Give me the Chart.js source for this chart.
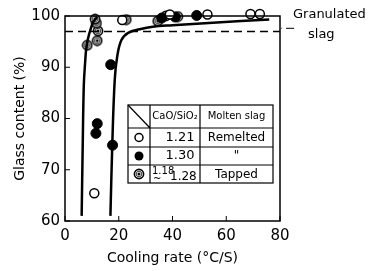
<!DOCTYPE html>
<html>
<head>
<meta charset="utf-8">
<script src="https://cdn.jsdelivr.net/npm/chart.js@4"></script>
<style>
  html, body { margin: 0; padding: 0; background: #fff; }
</style>
</head>
<body>
<canvas id="c" width="372" height="271"></canvas>
<script>
// remelted, CaO/SiO2 = 1.21 (open circles)
const openX = [10.9, 21.3, 39, 53, 69, 72.5];
const openY = [65.4, 99.2, 100.3, 100.3, 100.4, 100.4];

// remelted, CaO/SiO2 = 1.30 (filled)
const filledX = [11.5, 12, 17.7, 17, 36, 41, 49];
const filledY = [77.1, 79, 74.8, 90.5, 99.6, 99.8, 100.1];

// tapped, 1.18 ~ 1.28
const tappedX = [8.3, 12, 12.3, 11.7, 11.2, 22.8, 34.5, 37.5, 42];
const tappedY = [94.3, 95.2, 97.1, 98.6, 99.4, 99.3, 99.0, 100, 99.9];

// hand drawn curves
const leftCurveX = [6.2, 6.6, 7.0, 7.5, 8.0, 9.0, 10.5, 12.0];
const leftCurveY = [61, 75, 86.5, 91, 94, 96.5, 98.8, 99.8];
const rightCurveX = [16.9, 17.6, 18.5, 19.4, 21, 23.5, 27.8, 32.6, 40, 55, 76];
const rightCurveY = [61, 75, 87.5, 92, 95.3, 96.7, 97.4, 97.9, 98.2, 98.7, 99.3];

// granulated slag level
const granX = [0, 80];
const granY = [97, 97];

const xTicks = [0, 20, 40, 60, 80];
const yTicks = [60, 70, 80, 90, 100];

function pts(xs, ys) {
    return xs.map((x, i) => ({ x: x, y: ys[i] }));
}

// circle with a dot in the middle
function tappedMark() {
    const cv = document.createElement('canvas');
    cv.width = 12; cv.height = 12;
    const g = cv.getContext('2d');
    g.fillStyle = '#fff';
    g.strokeStyle = '#000';
    g.lineWidth = 1.6;
    g.beginPath(); g.arc(6, 6, 4.6, 0, Math.PI * 2); g.fill(); g.stroke();
    g.lineWidth = 0.8;
    g.beginPath(); g.arc(6, 6, 2.8, 0, Math.PI * 2); g.stroke();
    g.fillStyle = '#000';
    g.beginPath(); g.arc(6, 6, 1.5, 0, Math.PI * 2); g.fill();
    return cv;
}

const frame = {
    id: 'frame',
    afterDraw(chart) {
        const ctx = chart.ctx;
        const a = chart.chartArea;
        const xs = chart.scales.x, ys = chart.scales.y;
        ctx.save();
        ctx.strokeStyle = '#000';
        ctx.lineWidth = 1.5;
        ctx.strokeRect(a.left, a.top, a.right - a.left, a.bottom - a.top);
        // inward ticks
        ctx.lineWidth = 1;
        ctx.beginPath();
        xTicks.forEach(v => {
            const p = xs.getPixelForValue(v);
            ctx.moveTo(p, a.bottom); ctx.lineTo(p, a.bottom - 5);
        });
        yTicks.forEach(v => {
            const p = ys.getPixelForValue(v);
            ctx.moveTo(a.left, p); ctx.lineTo(a.left + 5, p);
        });
        ctx.stroke();

        // arrow + label for granulated slag
        const gy = ys.getPixelForValue(97.6);
        ctx.beginPath();
        ctx.moveTo(a.right + 1, gy); ctx.lineTo(a.right + 14, gy);
        ctx.stroke();
        ctx.beginPath();
        ctx.moveTo(a.right + 1, gy);
        ctx.lineTo(a.right + 6, gy - 2.5);
        ctx.lineTo(a.right + 6, gy + 2.5);
        ctx.closePath(); ctx.fill();
        ctx.fillStyle = '#000';
        ctx.font = '13px "DejaVu Sans"';
        ctx.textBaseline = 'middle';
        ctx.textAlign = 'left';
        ctx.fillText('Granulated', 293, 15);
        ctx.fillText('slag', 308, 35);

        // legend table
        const L = 128, R = 273, c1 = 150, c2 = 200;
        const rows = [105, 128, 147, 165, 183];
        ctx.lineWidth = 1.2;
        ctx.fillStyle = '#fff';
        ctx.fillRect(L, rows[0], R - L, rows[4] - rows[0]);
        ctx.strokeRect(L, rows[0], R - L, rows[4] - rows[0]);
        ctx.beginPath();
        ctx.moveTo(c1, rows[0]); ctx.lineTo(c1, rows[4]);
        ctx.moveTo(c2, rows[0]); ctx.lineTo(c2, rows[4]);
        for (let i = 1; i < 4; i++) { ctx.moveTo(L, rows[i]); ctx.lineTo(R, rows[i]); }
        ctx.moveTo(L, rows[0]); ctx.lineTo(c1, rows[1]);
        ctx.stroke();

        ctx.fillStyle = '#000';
        ctx.textAlign = 'center';
        ctx.font = '10px "DejaVu Sans"';
        ctx.fillText('CaO/SiO\u2082', (c1 + c2) / 2, (rows[0] + rows[1]) / 2);
        ctx.fillText('Molten slag', (c2 + R) / 2, (rows[0] + rows[1]) / 2);
        ctx.font = '13px "DejaVu Sans"';
        ctx.fillText('1.21', 180, (rows[1] + rows[2]) / 2);
        ctx.fillText('1.30', 180, (rows[2] + rows[3]) / 2);
        ctx.font = '12px "DejaVu Sans"';
        ctx.fillText('Remelted', (c2 + R) / 2, (rows[1] + rows[2]) / 2);
        ctx.fillText('"', (c2 + R) / 2, (rows[2] + rows[3]) / 2);
        ctx.fillText('Tapped', (c2 + R) / 2, (rows[3] + rows[4]) / 2 + 1);
        ctx.font = '10px "DejaVu Sans"';
        ctx.textAlign = 'left';
        ctx.fillText('1.18', 152, rows[3] + 6);
        ctx.fillText('~', 153, rows[3] + 14);
        ctx.font = '12px "DejaVu Sans"';
        ctx.fillText('1.28', 170, rows[3] + 12);

        // legend marks
        const my = i => (rows[i] + rows[i + 1]) / 2;
        const mx = (L + c1) / 2;
        ctx.lineWidth = 1.5;
        ctx.fillStyle = '#fff';
        ctx.beginPath(); ctx.arc(mx, my(1), 4, 0, Math.PI * 2); ctx.fill(); ctx.stroke();
        ctx.fillStyle = '#000';
        ctx.beginPath(); ctx.arc(mx, my(2), 4.5, 0, Math.PI * 2); ctx.fill();
        ctx.drawImage(tappedMark(), mx - 6, my(3) - 6);
        ctx.restore();
    }
};

new Chart(document.getElementById('c'), {
    type: 'scatter',
    data: {
        datasets: [
            {
                data: pts(granX, granY),
                showLine: true,
                borderColor: '#000',
                borderWidth: 1.5,
                borderDash: [8, 5],
                pointRadius: 0
            },
            {
                data: pts(leftCurveX, leftCurveY),
                showLine: true,
                borderColor: '#000',
                borderWidth: 2.5,
                tension: 0.4,
                pointRadius: 0
            },
            {
                data: pts(rightCurveX, rightCurveY),
                showLine: true,
                borderColor: '#000',
                borderWidth: 2.5,
                tension: 0.4,
                pointRadius: 0
            },
            {
                data: pts(openX, openY),
                pointRadius: 4.5,
                pointBackgroundColor: '#fff',
                pointBorderColor: '#000',
                pointBorderWidth: 1.5,
                clip: false
            },
            {
                data: pts(filledX, filledY),
                pointRadius: 5,
                pointBackgroundColor: '#000',
                pointBorderColor: '#000',
                pointBorderWidth: 1,
                clip: false
            },
            {
                data: pts(tappedX, tappedY),
                pointStyle: tappedMark(),
                clip: false
            }
        ]
    },
    options: {
        responsive: false,
        animation: false,
        devicePixelRatio: 1,
        layout: { padding: { top: 16, right: 92, left: 0, bottom: 0 } },
        plugins: {
            legend: { display: false },
            tooltip: { enabled: false }
        },
        scales: {
            x: {
                min: 0, max: 80,
                afterFit: s => { s.height = 50; },
                afterBuildTicks: s => { s.ticks = xTicks.map(v => ({ value: v })); },
                grid: { display: false, drawTicks: false },
                border: { display: false },
                ticks: {
                    color: '#000',
                    padding: 6,
                    font: { family: 'DejaVu Sans', size: 15 }
                },
                title: {
                    display: true,
                    text: 'Cooling rate (\u00b0C/S)',
                    color: '#000',
                    padding: { top: 0, bottom: 4 },
                    font: { family: 'DejaVu Sans', size: 14 }
                }
            },
            y: {
                min: 60, max: 100,
                afterFit: s => { s.width = 65; },
                afterBuildTicks: s => { s.ticks = yTicks.map(v => ({ value: v })); },
                grid: { display: false, drawTicks: false },
                border: { display: false },
                ticks: {
                    color: '#000',
                    padding: 5,
                    font: { family: 'DejaVu Sans', size: 15 }
                },
                title: {
                    display: true,
                    text: 'Glass content (%)',
                    color: '#000',
                    padding: { top: 12, bottom: 0 },
                    font: { family: 'DejaVu Sans', size: 14 }
                }
            }
        }
    },
    plugins: [frame]
});
</script>
</body>
</html>
